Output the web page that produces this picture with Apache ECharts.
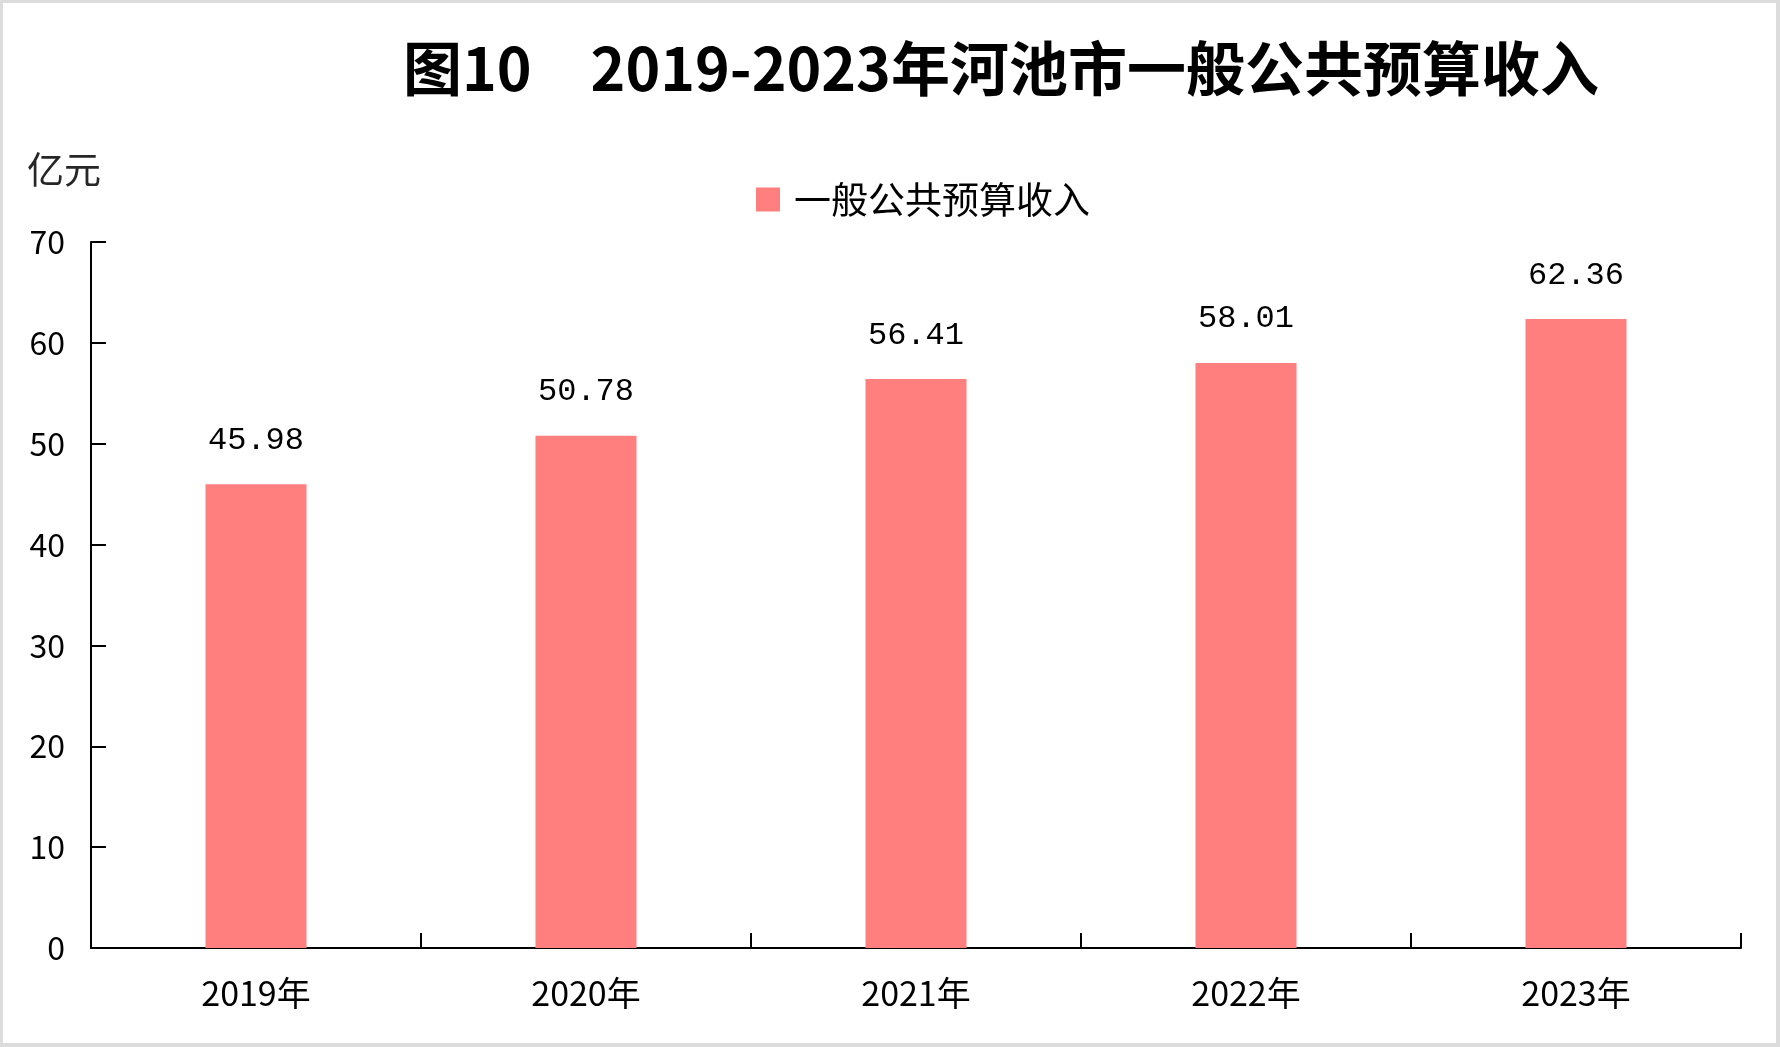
<!DOCTYPE html>
<html>
<head>
<meta charset="utf-8">
<title>2019-2023年河池市一般公共预算收入</title>
<script src="https://cdn.jsdelivr.net/npm/echarts@6/dist/echarts.min.js"></script>
<style>
  html, body { margin: 0; padding: 0; background: #fff; }
  #wrap { position: relative; width: 1780px; height: 1047px; }
  #chart { position: absolute; left: 0; top: 0; width: 1780px; height: 1047px; }
  #frame {
    position: absolute; left: 0; top: 0; width: 1780px; height: 1047px;
    box-sizing: border-box; pointer-events: none;
    border: 3px solid #dcdcdc; border-right-width: 4px; border-bottom-width: 4px;
  }
</style>
</head>
<body>
<div id="wrap">
  <div id="chart"></div>
  <div id="frame"></div>
</div>
<script>
// data
var years = ['2019年', '2020年', '2021年', '2022年', '2023年'];
var revenue = [45.98, 50.78, 56.41, 58.01, 62.36];
var seriesName = '一般公共预算收入';
var unitLabel = '亿元';
var yTicks = [0, 10, 20, 30, 40, 50, 60, 70];

var cjk = '"Noto Sans CJK SC", "Noto Sans", sans-serif';
var mono = '"Liberation Mono", "DejaVu Sans Mono", monospace';

var chart = echarts.init(document.getElementById('chart'));
chart.setOption({
    backgroundColor: '#fff',
    animation: false,
    title: [{
        text: '图10　2019-2023年河池市一般公共预算收入',
        left: 403,
        top: 39,
        padding: 0,
        textStyle: { fontFamily: cjk, fontSize: 59, fontWeight: 'bold', color: '#000' }
    }, {
        text: unitLabel,
        left: 27,
        top: 151,
        padding: 0,
        textStyle: { fontFamily: cjk, fontSize: 37, fontWeight: 'normal', color: '#262626' }
    }],
    legend: {
        data: [seriesName],
        left: 756,
        top: 181,
        padding: 0,
        icon: 'rect',
        itemWidth: 24,
        itemHeight: 24,
        textStyle: { fontFamily: cjk, fontSize: 37, color: '#000', padding: [0, 0, 0, 9] }
    },
    grid: { left: 91, right: 39, top: 242, bottom: 99, containLabel: false },
    xAxis: {
        type: 'category',
        data: years,
        axisLine: { show: true, lineStyle: { color: '#000', width: 2 } },
        axisTick: { show: true, inside: true, length: 15, alignWithLabel: false, interval: 0, lineStyle: { color: '#000', width: 2 } },
        axisLabel: { fontFamily: cjk, fontSize: 34, color: '#000', margin: 28 }
    },
    yAxis: {
        type: 'value',
        min: yTicks[0],
        max: yTicks[yTicks.length - 1],
        interval: yTicks[1] - yTicks[0],
        axisLine: { show: true, lineStyle: { color: '#000', width: 2 } },
        axisTick: { show: true, inside: true, length: 15, lineStyle: { color: '#000', width: 2 } },
        axisLabel: { fontFamily: cjk, fontSize: 32, color: '#000', margin: 26 },
        splitLine: { show: false }
    },
    series: [{
        name: seriesName,
        type: 'bar',
        data: revenue,
        barWidth: 101,
        itemStyle: { color: '#FF7F7F' },
        label: {
            show: true,
            position: 'top',
            distance: 28,
            fontFamily: mono,
            fontSize: 32,
            color: '#000',
            formatter: function (p) { return p.value.toFixed(2); }
        }
    }]
});
</script>
</body>
</html>
